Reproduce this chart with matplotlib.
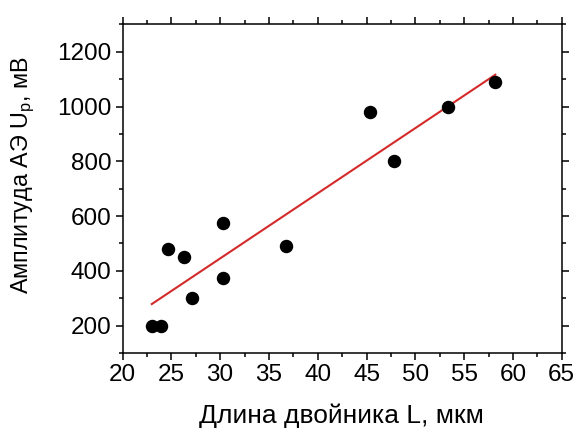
import numpy as np
import matplotlib
matplotlib.use('Agg')
import matplotlib.pyplot as plt
from matplotlib.ticker import MultipleLocator

plt.rcParams['font.family'] = ['Liberation Sans', 'DejaVu Sans']
plt.rcParams['mathtext.fontset'] = 'custom'
plt.rcParams['mathtext.rm'] = 'Liberation Sans'
plt.rcParams['mathtext.it'] = 'Liberation Sans:italic'

# Twin length (um) vs AE amplitude (mV)
twin_length = [23.0, 23.9, 24.7, 26.3, 27.1, 30.3, 30.3, 36.7, 45.4, 47.8, 53.4, 58.2]
amplitude = [200, 200, 480, 450, 300, 575, 375, 490, 980, 800, 1000, 1090]

x = np.array(twin_length)
y = np.array(amplitude)

# linear fit
k, b = np.polyfit(x, y, 1)
xf = np.array([x.min(), x.max()])

W, H = 576, 433
fig = plt.figure(figsize=(W / 100, H / 100), dpi=100)
ax = fig.add_axes([0.2127, 0.1848, 0.9752 - 0.2127, 0.9436 - 0.1848])

ax.plot(xf, k * xf + b, color='#d42a2a', lw=1.5, zorder=2)
ax.scatter(x, y, s=75, color='black', zorder=3)

ax.set_xlim(20, 65)
ax.set_ylim(100, 1300)
ax.xaxis.set_major_locator(MultipleLocator(5))
ax.xaxis.set_minor_locator(MultipleLocator(2.5))
ax.yaxis.set_minor_locator(MultipleLocator(100))
ax.set_yticks([200, 400, 600, 800, 1000, 1200])

ax.tick_params(which='both', direction='out', top=True, right=True,
               labeltop=False, labelright=False, width=1.1, labelsize=17.5, pad=3)
ax.tick_params(which='major', length=5)
ax.tick_params(which='minor', length=3)
for s in ax.spines.values():
    s.set_linewidth(1.1)

# axis titles placed in pixel coordinates
fig.text(341 / W, 1 - 416 / H, 'Длина двойника L, мкм', fontsize=19,
         ha='center', va='center')
fig.text(23 / W, 1 - 175 / H, r'Амплитуда АЭ U$_\mathregular{p}$, мВ', fontsize=16.8,
         ha='center', va='center', rotation=90)

fig.savefig('out.png', dpi=100)
